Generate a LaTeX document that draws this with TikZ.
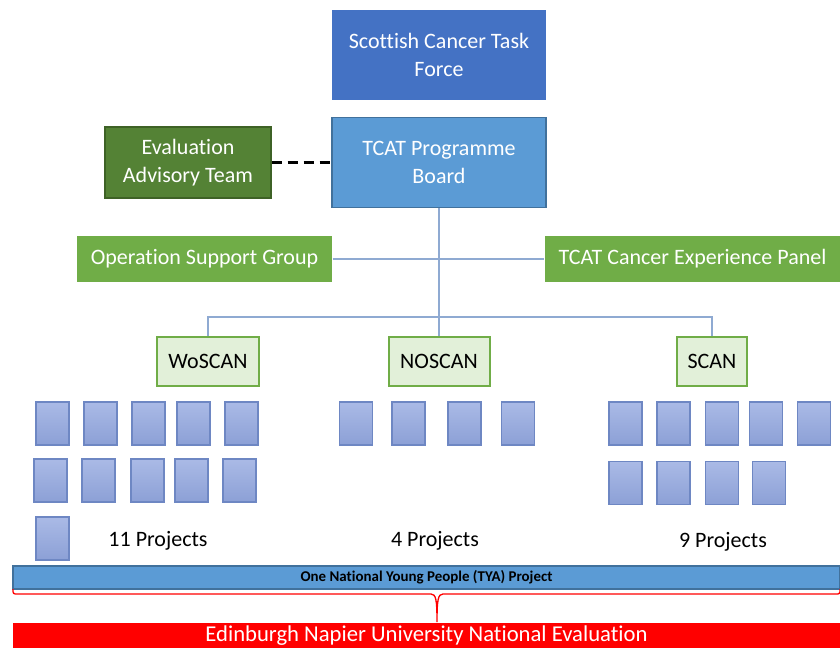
\documentclass[tikz,border=0pt]{standalone}
\usepackage{fontspec}
\setmainfont{Carlito}[Ligatures=NoCommon]
\usepackage{tikz}
\definecolor{taskblue}{RGB}{68,114,196}
\definecolor{boardblue}{RGB}{91,155,213}
\definecolor{boardedge}{RGB}{65,113,156}
\definecolor{darkgreen}{RGB}{84,130,53}
\definecolor{darkgreenedge}{RGB}{62,98,38}
\definecolor{midgreen}{RGB}{112,173,71}
\definecolor{palegreen}{RGB}{226,240,217}
\definecolor{linkblue}{RGB}{143,170,210}
\definecolor{projtop}{RGB}{170,186,230}
\definecolor{projbottom}{RGB}{140,160,214}
\definecolor{projedge}{RGB}{110,135,195}

\begin{document}
\begin{tikzpicture}[x=0.75pt,y=-0.75pt,thick]
        %
        % `board' is used by the big blue boxes.
        % `group' is used by the green boxes, `network' by the three networks.
        % `project' is used for the small project squares.
        \tikzstyle{every node} = [font=\fontsize{16.5}{21}\selectfont,inner sep=0pt,align=center]
        \tikzstyle{board} = [fill=taskblue,text=white,minimum width=160.5pt,minimum height=68pt]
        \tikzstyle{group} = [fill=midgreen,text=white,minimum height=34.5pt]
        \tikzstyle{network} = [draw=midgreen,line width=1.5pt,fill=palegreen,minimum height=36.75pt]
        \tikzstyle{project} = [draw=projedge,line width=0.8pt,top color=projtop,bottom color=projbottom,minimum width=24.75pt,minimum height=32.25pt]
        \tikzstyle{link} = [draw=linkblue,line width=1.1pt]
        \tikzstyle{bar} = [minimum width=620.25pt]
        %
        \useasboundingbox (0,0) rectangle (840,648);
        %
        % Top of the tree
        \node[board] (task) at (439,55) {Scottish Cancer Task\\Force};
        \node[board,fill=boardblue,draw=boardedge,line width=0.8pt] (board) at (439,162.5) {TCAT Programme\\Board};
        \node[fill=darkgreen,draw=darkgreenedge,line width=0.8pt,text=white,minimum width=124.5pt,minimum height=53.25pt] (advisory) at (188,162.5) {Evaluation\\Advisory Team};
        \draw[line width=2.2pt,dash pattern=on 7.5pt off 4.5pt] (advisory) -- (board);
        %
        % Support groups
        \node[group,minimum width=191.25pt] (support) at (204.5,259) {Operation Support Group};
        \node[group,minimum width=221.25pt] (panel) at (692.5,259) {TCAT Cancer Experience Panel};
        %
        % Networks
        \node[network,minimum width=76.5pt] (woscan) at (208,361.5) {WoSCAN};
        \node[network,minimum width=75.75pt] (noscan) at (439,361.5) {NOSCAN};
        \node[network,minimum width=52.5pt] (scan) at (712,361.5) {SCAN};
        \coordinate (split) at (439,317);
        \draw[link] (support) -- (panel);
        \draw[link] (board) -- (noscan);
        \draw[link] (woscan.north) |- (split) -| (scan.north);
        %
        % WoSCAN projects
        \node[project] (w1) at (52.5,423.5) {};
        \node[project] (w2) at (100.5,423.5) {};
        \node[project] (w3) at (148.5,423.5) {};
        \node[project] (w4) at (193.5,423.5) {};
        \node[project] (w5) at (241.5,423.5) {};
        \node[project] (w6) at (50.5,480.5) {};
        \node[project] (w7) at (98.5,480.5) {};
        \node[project] (w8) at (147.5,480.5) {};
        \node[project] (w9) at (191.5,480.5) {};
        \node[project] (w10) at (239.5,480.5) {};
        \node[project] (w11) at (52.5,538.5) {};
        \node (wcount) at (158,541) {11 Projects};
        %
        % NOSCAN projects
        \node[project] (n1) at (356,423.5) {};
        \node[project] (n2) at (408.5,423.5) {};
        \node[project] (n3) at (464.5,423.5) {};
        \node[project] (n4) at (518,423.5) {};
        \node (ncount) at (435,541) {4 Projects};
        %
        % SCAN projects
        \node[project] (s1) at (625.5,423.5) {};
        \node[project] (s2) at (673.5,423.5) {};
        \node[project] (s3) at (722,423.5) {};
        \node[project] (s4) at (766,423.5) {};
        \node[project] (s5) at (814,423.5) {};
        \node[project] (s6) at (625.5,483) {};
        \node[project] (s7) at (673.5,483) {};
        \node[project] (s8) at (722,483) {};
        \node[project] (s9) at (769,483) {};
        \node (scount) at (723,542) {9 Projects};
        %
        % National bars
        \node[bar,fill=boardblue,draw=boardedge,line width=0.8pt,minimum height=17.25pt,font=\fontsize{11.2}{13}\bfseries] (tya) at (426.5,577.5) {One National Young People (TYA) Project};
        \node[bar,fill=red,text=white,minimum height=18.75pt,font=\fontsize{17}{21}\selectfont] (evaluation) at (426.5,635.5) {Edinburgh Napier University National Evaluation};
        %
        % Brace
        \draw[red,line width=1pt] (13,589) .. controls (13,594) .. (18,594) -- (431,594)
            .. controls (436,594) and (437,600) .. (437,622)
            .. controls (437,600) and (438,594) .. (443,594) -- (835,594)
            .. controls (840,594) .. (840,589);
        %
\end{tikzpicture}
\end{document}
